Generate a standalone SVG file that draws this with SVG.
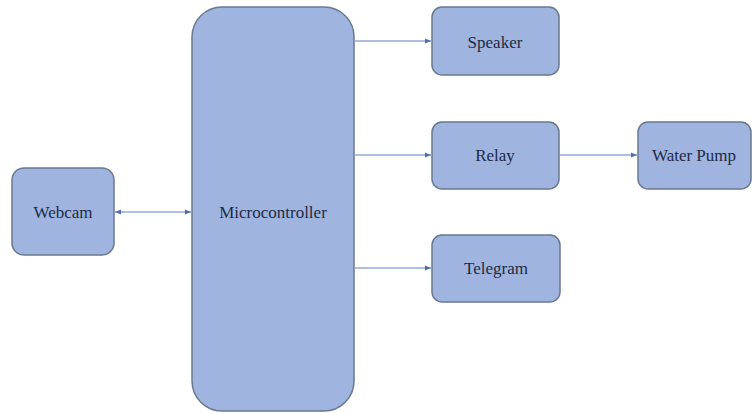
<svg xmlns="http://www.w3.org/2000/svg" width="756" height="413" viewBox="0 0 756 413">
<style>
.box{fill:#9FB5DF;stroke:#6A7892;stroke-width:1.5}
.lbl{font-family:'Liberation Serif','DejaVu Serif',serif;font-size:17px;fill:#1E2A45;text-anchor:middle}
.con{stroke:#5F80BE;stroke-width:1;fill:none}
</style>
<defs>
<marker id="ah" viewBox="0 0 6 6" refX="6" refY="3" markerWidth="6" markerHeight="6" orient="auto-start-reverse" markerUnits="userSpaceOnUse">
<path d="M0,0.5 L6,3 L0,5.5 z" fill="#4F6FAE"/>
</marker>
</defs>
<rect width="756" height="413" fill="#FFFFFF"/>
<g id="connectors">
<line class="con" x1="115" y1="212" x2="191" y2="212" marker-start="url(#ah)" marker-end="url(#ah)"/>
<line class="con" x1="355" y1="41" x2="431" y2="41" marker-end="url(#ah)"/>
<line class="con" x1="355" y1="155" x2="431" y2="155" marker-end="url(#ah)"/>
<line class="con" x1="355" y1="268" x2="431" y2="268" marker-end="url(#ah)"/>
<line class="con" x1="560" y1="155" x2="637" y2="155" marker-end="url(#ah)"/>
</g>
<g id="webcam">
<rect class="box" x="12" y="168" width="102" height="87" rx="12"/>
<text class="lbl" x="63" y="218" font-family="Liberation Serif, serif">Webcam</text>
</g>
<g id="microcontroller">
<rect class="box" x="192" y="7" width="162" height="404" rx="30"/>
<text class="lbl" x="273" y="218" font-family="Liberation Serif, serif">Microcontroller</text>
</g>
<g id="speaker">
<rect class="box" x="432" y="7" width="127" height="68" rx="10"/>
<text class="lbl" x="495" y="48" font-family="Liberation Serif, serif">Speaker</text>
</g>
<g id="relay">
<rect class="box" x="432" y="122" width="127" height="67" rx="10"/>
<text class="lbl" x="495" y="161" font-family="Liberation Serif, serif">Relay</text>
</g>
<g id="telegram">
<rect class="box" x="432" y="235" width="128" height="67" rx="10"/>
<text class="lbl" x="496" y="274" font-family="Liberation Serif, serif">Telegram</text>
</g>
<g id="water-pump">
<rect class="box" x="638" y="122" width="113" height="67" rx="10"/>
<text class="lbl" x="694" y="161" font-family="Liberation Serif, serif">Water Pump</text>
</g>
</svg>
